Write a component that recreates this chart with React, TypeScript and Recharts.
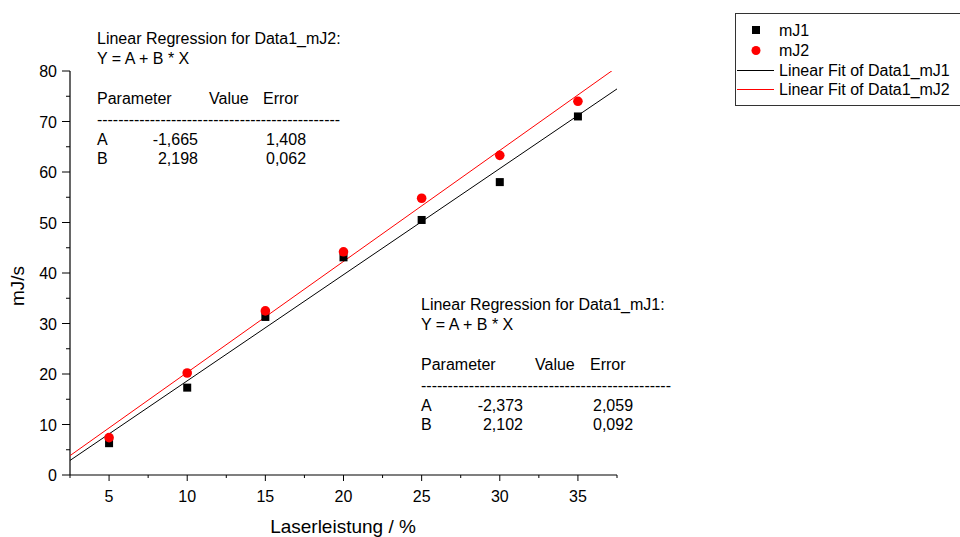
import { ScatterChart, Scatter, XAxis, YAxis } from 'recharts'

const LASER = [5, 10, 15, 20, 25, 30, 35]
const MJ1 = [6.3, 17.3, 31.3, 43.1, 50.5, 58.0, 71.0]
const MJ2 = [7.4, 20.2, 32.5, 44.2, 54.8, 63.3, 74.0]

// fit parameters as printed in the chart (A + B * X)
const FIT_A = [-2.373, -1.665]
const FIT_B = [2.102, 2.198]
const FIT_ERR_A = [2.059, 1.408]
const FIT_ERR_B = [0.092, 0.062]
const FIT_RANGE = [2.5, 37.5]

const X_TICKS = [2.5, 5, 7.5, 10, 12.5, 15, 17.5, 20, 22.5, 25, 27.5, 30, 32.5, 35, 37.5]
const Y_TICKS = [0, 5, 10, 15, 20, 25, 30, 35, 40, 45, 50, 55, 60, 65, 70, 75, 80]

const FONT = '"Liberation Sans", Arial, sans-serif'

const mj1Data = LASER.map((x, i) => ({ x, y: MJ1[i] }))
const mj2Data = LASER.map((x, i) => ({ x, y: MJ2[i] }))
const fit1Data = FIT_RANGE.map(x => ({ x, y: FIT_A[0] + FIT_B[0] * x }))
const fit2Data = FIT_RANGE.map(x => ({ x, y: FIT_A[1] + FIT_B[1] * x }))

const fmt = (v: number) => v.toFixed(3).replace('.', ',')

function XTick({ x, y, payload }: any) {
  const major = payload.value % 5 === 0
  return (
    <g>
      <line x1={x} x2={x} y1={y} y2={y + (major ? 6 : 3)} stroke="#000" />
      {major && (
        <text x={x} y={y + 27} textAnchor="middle" fontSize={16} fontFamily={FONT} fill="#000">
          {payload.value}
        </text>
      )}
    </g>
  )
}

function YTick({ x, y, payload }: any) {
  const major = payload.value % 10 === 0
  return (
    <g>
      <line x1={x - (major ? 8 : 4)} x2={x} y1={y} y2={y} stroke="#000" />
      {major && (
        <text x={x - 13} y={y + 6} textAnchor="end" fontSize={16} fontFamily={FONT} fill="#000">
          {payload.value}
        </text>
      )}
    </g>
  )
}

function LegendBox({ left, top }: any) {
  return (
    <g transform={`translate(${left}, ${top})`} fontSize={16} fontFamily={FONT} fill="#000">
      <rect x={0.5} y={0.5} width={240} height={92} fill="#fff" stroke="#333" />
      <rect x={17} y={13} width={8} height={8} fill="#000" />
      <text x={44} y={23}>mJ1</text>
      <circle cx={21} cy={37.5} r={4.5} fill="#ff0000" />
      <text x={44} y={43}>mJ2</text>
      <line x1={2} x2={39} y1={57.5} y2={57.5} stroke="#000" />
      <text x={44} y={63}>Linear Fit of Data1_mJ1</text>
      <line x1={2} x2={39} y1={76.5} y2={76.5} stroke="#ff0000" />
      <text x={44} y={82}>Linear Fit of Data1_mJ2</text>
    </g>
  )
}

function FitTable({ left, top, name, i, valueRight, valueX, errorX, dashWidth }: any) {
  const t = (x: number, y: number, s: string, anchor = 'start') => (
    <text x={x} y={y} textAnchor={anchor} fontSize={16} fontFamily={FONT} fill="#000">{s}</text>
  )
  return (
    <g>
      {t(left, top, `Linear Regression for ${name}:`)}
      {t(left, top + 20, 'Y = A + B * X')}
      {t(left, top + 60, 'Parameter')}
      {t(left + valueX, top + 60, 'Value')}
      {t(left + errorX, top + 60, 'Error')}
      <text x={left} y={top + 81} fontSize={16} fontFamily={FONT} fill="#000"
        textLength={dashWidth} lengthAdjust="spacingAndGlyphs">
        {'-'.repeat(Math.round(dashWidth / 5.33))}
      </text>
      {t(left, top + 101, 'A')}
      {t(left + valueRight, top + 101, fmt(FIT_A[i]), 'end')}
      {t(left + errorX + 3, top + 101, fmt(FIT_ERR_A[i]))}
      {t(left, top + 120, 'B')}
      {t(left + valueRight, top + 120, fmt(FIT_B[i]), 'end')}
      {t(left + errorX + 3, top + 120, fmt(FIT_ERR_B[i]))}
    </g>
  )
}

const square = (p: any) => <rect x={p.cx - 4} y={p.cy - 4} width={8} height={8} fill="#000" />
const dot = (p: any) => <circle cx={p.cx} cy={p.cy} r={4.8} fill="#ff0000" />
const none = () => <g />

export default function App() {
  return (
    <div style={{ position: 'absolute', left: 0, top: 0, width: 960, height: 537, background: '#fff', fontFamily: FONT }}>
      <ScatterChart width={960} height={537} margin={{ top: 71, right: 343, left: 30, bottom: 22 }}>
        <XAxis
          type="number"
          dataKey="x"
          domain={[2.5, 37.5]}
          ticks={X_TICKS}
          interval={0}
          height={40}
          tickSize={0}
          tickMargin={0}
          tickLine={false}
          axisLine={{ stroke: '#000', strokeWidth: 1.2 }}
          tick={XTick}
          allowDataOverflow
        />
        <YAxis
          type="number"
          dataKey="y"
          domain={[0, 80]}
          ticks={Y_TICKS}
          interval={0}
          width={40}
          tickSize={0}
          tickMargin={0}
          tickLine={false}
          axisLine={{ stroke: '#000', strokeWidth: 1.2 }}
          tick={YTick}
          allowDataOverflow
        />
        <Scatter name="Linear Fit of Data1_mJ1" data={fit1Data} line={{ stroke: '#000', strokeWidth: 1 }} shape={none} isAnimationActive={false} />
        <Scatter name="Linear Fit of Data1_mJ2" data={fit2Data} line={{ stroke: '#ff0000', strokeWidth: 1 }} shape={none} isAnimationActive={false} />
        <Scatter name="mJ1" data={mj1Data} shape={square} isAnimationActive={false} />
        <Scatter name="mJ2" data={mj2Data} shape={dot} isAnimationActive={false} />
      </ScatterChart>
      <svg width={960} height={537} style={{ position: 'absolute', left: 0, top: 0, pointerEvents: 'none' }}>
        <LegendBox left={735} top={13} />
        <FitTable left={97} top={44} name="Data1_mJ2" i={1}
          valueRight={101} valueX={112} errorX={166} dashWidth={243} />
        <FitTable left={421} top={310} name="Data1_mJ1" i={0}
          valueRight={102} valueX={114} errorX={169} dashWidth={250} />
        <text x={343} y={533} textAnchor="middle" fontSize={19} fontFamily={FONT} fill="#000">Laserleistung / %</text>
        <text transform="translate(24, 286) rotate(-90)" textAnchor="middle" fontSize={19} fontFamily={FONT} fill="#000">mJ/s</text>
      </svg>
    </div>
  )
}
